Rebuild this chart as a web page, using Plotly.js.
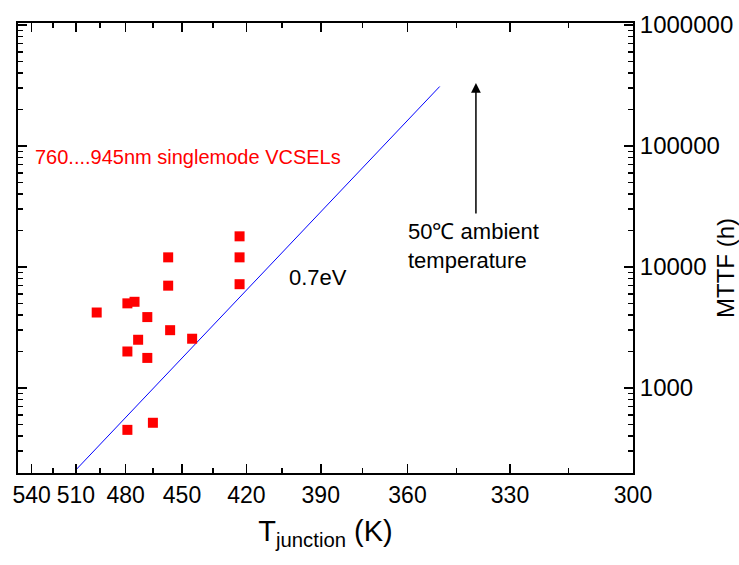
<!DOCTYPE html>
<html>
<head>
<meta charset="utf-8">
<script src="https://cdn.plot.ly/plotly-3.0.1.min.js"></script>
<style>
  html, body { margin: 0; padding: 0; background: #fff; }
  #chart { width: 739px; height: 565px; }
</style>
</head>
<body>
<div id="chart"></div>
<script>
// ---- data ----
// junction temperature (K) and MTTF (h) of the singlemode VCSELs
const tempK = [497, 479, 475, 468, 457, 457, 456, 473, 479, 468, 445, 423, 423, 423, 479, 465];
const mttfH = [4200, 5000, 5150, 3850, 12000, 7000, 3000, 2500, 2000, 1770, 2550, 17900, 12000, 7200, 450, 515];
// 0.7 eV Arrhenius line end points
const fitTempK = [510, 350];
const fitMttfH = [210, 310000];
// 50 C ambient marker arrow (temperature, tail MTTF, head MTTF)
const arrowTempK = 339.4;
const arrowTailH = 26900;
const arrowHeadH = 332000;
// tick labels
const xTickTemps = [540, 510, 480, 450, 420, 390, 360, 330, 300];
const xMinorTemps = [525, 495, 465, 435, 405, 375, 345, 315];
const yTickVals = [1000, 10000, 100000, 1000000];
const yTickText = ['1000', '10000', '100000', '1000000'];
const xRangeK = [550, 300];
const yRangeH = [198, 1038000];

// inverse temperature scale (x = 1000/T)
const inv = t => 1000 / t;

const minorY = [];
[100, 1000, 10000, 100000].forEach(d => { for (let k = 2; k <= 9; k++) minorY.push(k * d); });

const traces = [
  {
    x: fitTempK.map(inv), y: fitMttfH, type: 'scatter', mode: 'lines',
    line: { color: '#0000ff', width: 1 }, hoverinfo: 'skip', showlegend: false
  },
  {
    x: tempK.map(inv), y: mttfH, type: 'scatter', mode: 'markers',
    marker: { symbol: 'square', size: 10, color: '#ff0000' }, showlegend: false
  }
];

const FONT = 'Arial, "Liberation Sans", sans-serif';

const layout = {
  width: 739, height: 565,
  margin: { l: 18, r: 106, t: 23, b: 92 },
  paper_bgcolor: '#ffffff', plot_bgcolor: '#ffffff',
  showlegend: false,
  xaxis: {
    range: xRangeK.map(inv),
    tickvals: xTickTemps.map(inv),
    ticktext: xTickTemps.map(String),
    tickangle: 0,
    ticks: 'inside', ticklen: 9, tickwidth: 1.5, tickcolor: '#000',
    minor: { tickvals: xMinorTemps.map(inv), ticks: 'inside', ticklen: 5, tickwidth: 1.5, tickcolor: '#000', showgrid: false },
    showline: true, linecolor: '#000', linewidth: 2, mirror: 'ticks',
    showgrid: false, zeroline: false,
    tickfont: { family: FONT, size: 23, color: '#000' },
    title: { text: 'T<sub>junction</sub> (K)', font: { family: FONT, size: 29, color: '#000' }, standoff: 14 }
  },
  yaxis: {
    type: 'log', side: 'right',
    range: yRangeH.map(Math.log10),
    tickvals: yTickVals, ticktext: yTickText,
    ticks: 'inside', ticklen: 9, tickwidth: 1.5, tickcolor: '#000',
    minor: { tickvals: minorY, ticks: 'inside', ticklen: 5, tickwidth: 1.5, tickcolor: '#000', showgrid: false },
    showline: true, linecolor: '#000', linewidth: 2, mirror: 'ticks',
    showgrid: false, zeroline: false,
    tickfont: { family: FONT, size: 24, color: '#000' }
  },
  annotations: [
    {
      xref: 'x', yref: 'y', axref: 'x', ayref: 'y',
      x: inv(arrowTempK), y: Math.log10(arrowHeadH),
      ax: inv(arrowTempK), ay: Math.log10(arrowTailH),
      text: '', showarrow: true, arrowhead: 2, arrowsize: 1.3, arrowwidth: 1.5, arrowcolor: '#000'
    },
    {
      xref: 'paper', yref: 'paper', x: (406 - 18) / 615, y: (473 - 246) / 450,
      xanchor: 'left', yanchor: 'middle', align: 'left', showarrow: false,
      text: '50\u2103 ambient<br>temperature',
      font: { family: FONT, size: 22, color: '#000' }
    },
    {
      xref: 'paper', yref: 'paper', x: (287 - 18) / 615, y: (473 - 277) / 450,
      xanchor: 'left', yanchor: 'middle', showarrow: false,
      text: '0.7eV', font: { family: FONT, size: 22, color: '#000' }
    },
    {
      xref: 'paper', yref: 'paper', x: (33 - 18) / 615, y: (473 - 157) / 450,
      xanchor: 'left', yanchor: 'middle', showarrow: false,
      text: '760....945nm singlemode VCSELs', font: { family: FONT, size: 20, color: '#ff0000' }
    },
    {
      xref: 'paper', yref: 'paper', x: (725 - 18) / 615, y: (473 - 268) / 450,
      xanchor: 'center', yanchor: 'middle', showarrow: false, textangle: -90,
      text: 'MTTF (h)', font: { family: FONT, size: 24, color: '#000' }
    }
  ]
};

Plotly.newPlot('chart', traces, layout, { displayModeBar: false, staticPlot: true });
</script>
</body>
</html>
